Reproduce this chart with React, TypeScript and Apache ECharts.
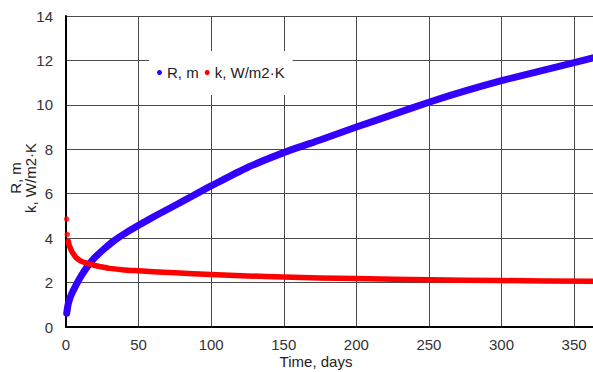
import React, { useEffect, useRef } from "react";
import * as echarts from "echarts";

// R, m (blue) — days and values
const rDays = [0.5, 1, 1.6, 3, 5, 7, 10, 14, 19, 26, 33, 42, 50, 62, 75, 88, 100, 125, 150, 175, 200, 225, 250, 275, 300, 325, 350, 363];
const rValues = [0.62, 0.85, 1.05, 1.35, 1.64, 1.9, 2.25, 2.65, 3.07, 3.5, 3.88, 4.27, 4.58, 5.02, 5.47, 5.93, 6.35, 7.18, 7.85, 8.42, 9.0, 9.56, 10.12, 10.63, 11.09, 11.5, 11.9, 12.12];

// k, W/m2·K (red) — first two isolated points, then continuous curve
const kStartDays = [0.45, 0.9];
const kStartValues = [4.86, 4.17];
const kDays = [1.6, 2, 3, 4, 5, 7, 10, 13, 16, 20, 25, 30, 40, 50, 60, 75, 100, 125, 150, 175, 200, 250, 300, 363];
const kValues = [3.86, 3.72, 3.55, 3.4, 3.3, 3.12, 2.98, 2.9, 2.84, 2.77, 2.7, 2.64, 2.57, 2.53, 2.49, 2.44, 2.36, 2.3, 2.25, 2.21, 2.18, 2.13, 2.09, 2.06];

const seriesNames = ["R, m", "k, W/m2·K"];
const xTitle = "Time, days";
const yTitle = "R, m\nk, W/m2·K";
const xMax = 363;
const yMax = 14;

const BLUE = "#3300ff";
const RED = "#ff0000";
const FONT = "'Liberation Sans', Arial, sans-serif";

export default function App() {
  const ref = useRef<HTMLDivElement>(null);
  useEffect(() => {
    if (!ref.current) return;
    const chart = echarts.init(ref.current, undefined, { renderer: "svg" });
    const rData = rDays.map((d, i) => [d, rValues[i]]);
    const kData = kDays.map((d, i) => [d, kValues[i]]);
    const kStart = kStartDays.map((d, i) => [d, kStartValues[i]]);
    chart.setOption({
      animation: false,
      backgroundColor: "#fff",
      grid: { left: 66, right: 0, top: 16, bottom: 45, containLabel: false },
      legend: {
        data: [
          { name: seriesNames[0], itemStyle: { color: BLUE } },
          { name: seriesNames[1], itemStyle: { color: RED } },
        ],
        icon: "circle",
        itemWidth: 5,
        itemHeight: 5,
        itemGap: 6,
        left: 149,
        top: 51,
        padding: [14, 8, 15, 8],
        backgroundColor: "#ffffff",
        textStyle: { fontSize: 15, color: "#222", fontFamily: FONT },
      },
      xAxis: {
        type: "value",
        min: 0,
        max: xMax,
        interval: 50,
        axisLine: { show: true, lineStyle: { color: "#000", width: 2 } },
        axisTick: { show: false },
        axisLabel: {
          fontSize: 15,
          color: "#333",
          fontFamily: FONT,
          margin: 10,
          showMaxLabel: false,
          formatter: (v: number) => (v % 50 === 0 ? String(v) : ""),
        },
        splitLine: { show: true, lineStyle: { color: "#4a4a4a", width: 1 } },
      },
      yAxis: {
        type: "value",
        min: 0,
        max: yMax,
        interval: 2,
        axisLine: { show: true, lineStyle: { color: "#000", width: 2 } },
        axisTick: { show: false },
        axisLabel: { fontSize: 15, color: "#333", fontFamily: FONT, margin: 13 },
        splitLine: { show: true, lineStyle: { color: "#4a4a4a", width: 1 } },
      },
      graphic: [
        {
          type: "text",
          x: 22.5,
          y: 178,
          rotation: Math.PI / 2,
          style: {
            text: yTitle,
            font: `15px ${FONT}`,
            fill: "#222",
            align: "center",
            verticalAlign: "middle",
            lineHeight: 15,
          },
        },
        {
          type: "text",
          x: 316,
          y: 361,
          style: {
            text: xTitle,
            font: `15px ${FONT}`,
            fill: "#222",
            align: "center",
            verticalAlign: "middle",
          },
        },
      ],
      series: [
        {
          name: seriesNames[0],
          type: "line",
          data: rData,
          smooth: 0.2,
          showSymbol: false,
          clip: false,
          z: 3,
          itemStyle: { color: BLUE },
          lineStyle: { color: BLUE, width: 7, cap: "round", join: "round" },
        },
        {
          name: seriesNames[1],
          type: "line",
          data: kData,
          smooth: 0.2,
          showSymbol: false,
          clip: false,
          z: 4,
          itemStyle: { color: RED },
          lineStyle: { color: RED, width: 5.5, cap: "round", join: "round" },
        },
        {
          name: seriesNames[1],
          type: "scatter",
          data: kStart,
          symbol: "circle",
          symbolSize: 5.5,
          clip: false,
          z: 4,
          itemStyle: { color: RED },
        },
      ],
    });
    return () => chart.dispose();
  }, []);
  return (
    <div
      ref={ref}
      style={{ position: "fixed", left: 0, top: 0, width: 593, height: 372 }}
    />
  );
}
